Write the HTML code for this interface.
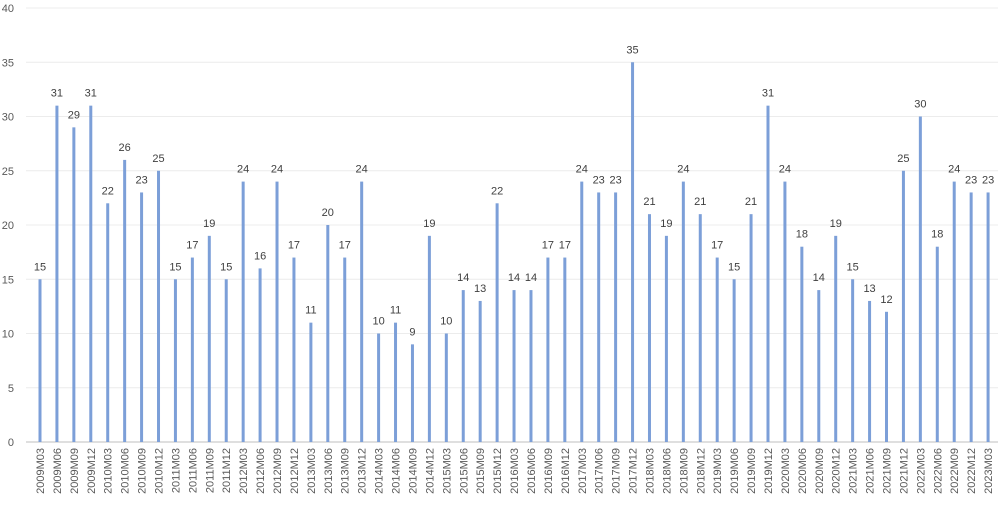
<!DOCTYPE html>
<html><head><meta charset="utf-8"><style>
body{margin:0;background:#fff;}
svg{display:block;font-family:"Liberation Sans",sans-serif;}
</style></head><body>
<svg id="c" width="1000" height="508" xmlns="http://www.w3.org/2000/svg"></svg>
<script>
var v=[15,31,29,31,22,26,23,25,15,17,19,15,24,16,24,17,11,20,17,24,10,11,9,19,10,14,13,22,14,14,17,17,24,23,23,35,21,19,24,21,17,15,21,31,24,18,14,19,15,13,12,25,30,18,24,23,23];
var s='',y0=442,k=10.85,x0=40,dx=16.93;
for(var g=0;g<=40;g+=5){var y=y0-g*k;
 if(g>0)s+='<line x1="26" x2="998" y1="'+y+'" y2="'+y+'" stroke="#ececec" stroke-width="1"/>';
 s+='<text x="14" y="'+(y+4)+'" text-anchor="end" font-size="11" fill="#595959">'+g+'</text>';}
s+='<line x1="26" x2="998" y1="'+y0+'" y2="'+y0+'" stroke="#bfbfbf" stroke-width="1"/>';
for(var i=0;i<v.length;i++){var x=x0+i*dx,h=v[i]*k;
 s+='<rect x="'+(x-1.5)+'" y="'+(y0-h)+'" width="3" height="'+h+'" fill="#7c9fd8"/>';
 s+='<text x="'+x+'" y="'+(y0-h-9)+'" text-anchor="middle" font-size="11" fill="#404040">'+v[i]+'</text>';
 var q=i+0,yr=2009+Math.floor((q+0)/4),m=['03','06','09','12'][q%4];
 s+='<text transform="translate('+(x+4)+',448) rotate(-90)" text-anchor="end" font-size="11" fill="#595959">'+yr+'M'+m+'</text>';}
document.getElementById('c').innerHTML=s;
</script>
</body></html>
